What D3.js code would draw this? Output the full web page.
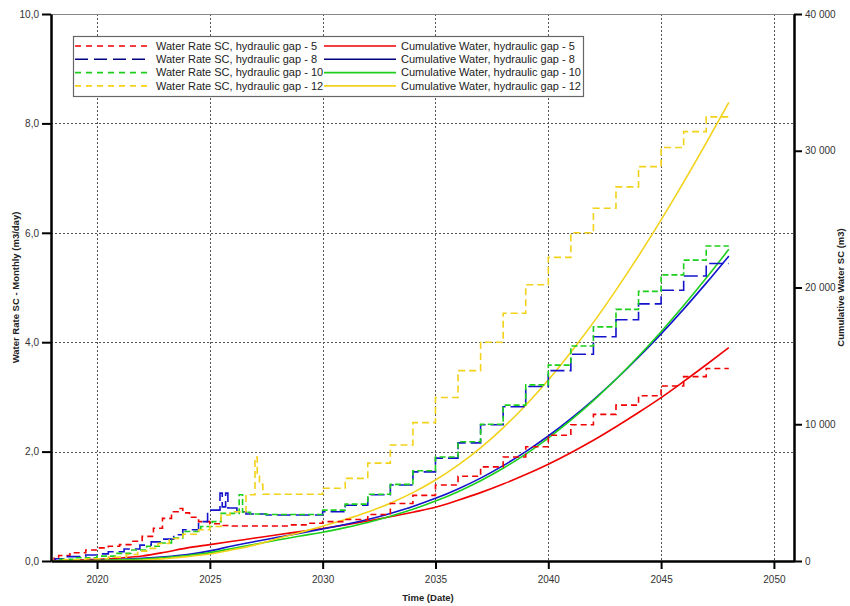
<!DOCTYPE html>
<html>
<head>
<meta charset="utf-8">
<script src="https://cdn.jsdelivr.net/npm/d3@7"></script>
<style>
  body { margin: 0; background: #fff; }
  svg { display: block; font-family: "Liberation Sans", Arial, sans-serif; }
  .grid line { stroke: #555; stroke-dasharray: 2,2; shape-rendering: crispEdges; }
  .axis path, .axis line { stroke: #000; stroke-width: 2; }
  .axis text { fill: #333; }
</style>
</head>
<body>
<div id="chart"></div>
<script>
// cumulative water (m3), yearly
const cumYears = [2018, 2019, 2020, 2021, 2022, 2023, 2024, 2025, 2026, 2027, 2028, 2029, 2030,
  2031, 2032, 2033, 2034, 2035, 2036, 2037, 2038, 2039, 2040, 2041, 2042, 2043, 2044, 2045, 2046, 2047, 2048];
const cumGap5 = [0, 45, 120, 220, 365, 640, 960, 1200, 1440, 1680, 1920, 2150, 2380,
  2640, 2920, 3230, 3570, 3930, 4440, 5000, 5630, 6320, 7080, 7920, 8830, 9820, 10860, 11950, 13130, 14350, 15600];
const cumGap8 = [0, 15, 50, 110, 190, 310, 480, 740, 1100, 1420, 1730, 2040, 2340,
  2670, 3040, 3480, 3990, 4580, 5270, 6060, 6970, 8000, 9140, 10410, 11790, 13290, 14900, 16610, 18420, 20320, 22300];
const cumGap10 = [0, 10, 35, 80, 150, 250, 400, 610, 920, 1230, 1530, 1830, 2100,
  2440, 2820, 3270, 3780, 4380, 5070, 5870, 6780, 7820, 8990, 10300, 11730, 13290, 14970, 16770, 18680, 20690, 22790];
const cumGap12 = [0, 5, 15, 30, 60, 170, 320, 510, 820, 1180, 1640, 2090, 2540,
  3030, 3580, 4230, 5000, 5920, 7010, 8280, 9740, 11390, 13230, 15260, 17450, 19810, 22310, 24940, 27700, 30570, 33530];

// water rate (m3/day): [decimal year, value], held until the next point
const rateGap5 = [[2018.0, 0], [2018.1, 0.05], [2018.3, 0.1], [2018.8, 0.15], [2019.5, 0.2], [2020.0, 0.24],
  [2020.5, 0.27], [2021.0, 0.3], [2021.5, 0.36], [2022.0, 0.45], [2022.5, 0.6], [2022.9, 0.78], [2023.3, 0.9],
  [2023.6, 0.96], [2023.8, 0.88], [2024.1, 0.8], [2024.5, 0.72], [2025.0, 0.68], [2025.5, 0.65], [2026.0, 0.64],
  [2028.5, 0.66], [2029.4, 0.69], [2030, 0.72], [2031, 0.76], [2032, 0.85], [2033, 1.05], [2034, 1.2],
  [2035, 1.39], [2036, 1.55], [2037, 1.72], [2038, 1.9], [2039, 2.09], [2040, 2.3], [2041, 2.49], [2042, 2.68],
  [2043, 2.85], [2044, 3.02], [2045, 3.2], [2046, 3.37], [2047, 3.52], [2048, 3.52]];
const rateGap8 = [[2018.0, 0], [2018.15, 0.04], [2018.5, 0.08], [2019.5, 0.11], [2020.0, 0.13], [2020.5, 0.17],
  [2021.2, 0.22], [2021.9, 0.29], [2022.4, 0.35], [2022.8, 0.4], [2023.4, 0.48], [2023.8, 0.57], [2024.5, 0.72],
  [2024.9, 0.93], [2025.45, 1.24], [2025.55, 0.99], [2025.7, 1.24], [2025.8, 0.97], [2026.2, 0.9], [2026.6, 0.86],
  [2027.5, 0.84], [2030, 0.9], [2031, 1.02], [2032, 1.21], [2033, 1.39], [2034, 1.63], [2035, 1.88],
  [2036, 2.16], [2037, 2.49], [2038, 2.82], [2039, 3.19], [2040, 3.48], [2041, 3.78], [2042, 4.10],
  [2043, 4.41], [2044, 4.70], [2045, 4.95], [2046, 5.21], [2047, 5.44], [2048, 5.44]];
const rateGap10 = [[2018.0, 0], [2018.3, 0.03], [2019.0, 0.06], [2020.0, 0.09], [2020.8, 0.14], [2021.5, 0.2],
  [2022.2, 0.27], [2022.8, 0.33], [2023.3, 0.42], [2023.8, 0.54], [2024.6, 0.63], [2025.1, 0.72], [2025.5, 0.87],
  [2026.3, 1.21], [2026.45, 0.89], [2026.8, 0.86], [2027.5, 0.85], [2030, 0.93], [2031, 1.04], [2032, 1.22],
  [2033, 1.40], [2034, 1.65], [2035, 1.90], [2036, 2.18], [2037, 2.50], [2038, 2.85], [2039, 3.22],
  [2040, 3.58], [2041, 3.93], [2042, 4.28], [2043, 4.60], [2044, 4.93], [2045, 5.23], [2046, 5.50],
  [2047, 5.76], [2048, 5.76]];
const rateGap12 = [[2018.0, 0], [2018.5, 0.02], [2019.5, 0.04], [2020.5, 0.07], [2021.3, 0.12], [2021.8, 0.18],
  [2022.2, 0.23], [2022.7, 0.32], [2023.2, 0.41], [2023.8, 0.49], [2024.5, 0.57], [2025.0, 0.63], [2025.5, 0.84],
  [2025.9, 0.9], [2026.6, 1.21], [2027.0, 1.9], [2027.1, 1.6], [2027.2, 1.4], [2027.35, 1.22], [2030, 1.33],
  [2031, 1.51], [2032, 1.79], [2033, 2.12], [2034, 2.53], [2035, 2.99], [2036, 3.48], [2037, 4.00],
  [2038, 4.53], [2039, 5.05], [2040, 5.55], [2041, 6.00], [2042, 6.45], [2043, 6.84], [2044, 7.21],
  [2045, 7.56], [2046, 7.85], [2047, 8.12], [2048, 8.12]];

const gaps = ["5", "8", "10", "12"];
const xTicks = [2020, 2025, 2030, 2035, 2040, 2045, 2050];
const rateTicks = [0, 2, 4, 6, 8, 10];
const cumTicks = [0, 10000, 20000, 30000, 40000];

const width = 850, height = 606;
const margin = {top: 14, right: 56, bottom: 45, left: 51};

const colors = ["#f00000", "#1414cc", "#1ccf1c", "#f2d21a"];
const legendColors = ["#f00000", "#000080", "#1ccf1c", "#f2d21a"];
const rateDash = ["6,4", "14,5", "6,3", "7,4"];

const rates = [rateGap5, rateGap8, rateGap10, rateGap12];
const cums = [cumGap5, cumGap8, cumGap10, cumGap12];

const svg = d3.select("#chart").append("svg")
  .attr("width", width)
  .attr("height", height);

const x = d3.scaleLinear()
  .domain([2017.96, 2050.89])
  .range([margin.left, width - margin.right]);
const yRate = d3.scaleLinear()
  .domain([0, 10])
  .range([height - margin.bottom, margin.top]);
const yCum = d3.scaleLinear()
  .domain([0, 40000])
  .range([height - margin.bottom, margin.top]);

const locale = d3.formatLocale({decimal: ",", thousands: " ", grouping: [3], currency: ["", ""]});

// grid
const grid = svg.append("g").attr("class", "grid");
grid.selectAll("line.v")
  .data(xTicks)
  .enter().append("line")
    .attr("class", "v")
    .attr("x1", d => Math.round(x(d)) + 0.5)
    .attr("x2", d => Math.round(x(d)) + 0.5)
    .attr("y1", yRate(10))
    .attr("y2", yRate(0));
grid.selectAll("line.h")
  .data([2, 4, 6, 8])
  .enter().append("line")
    .attr("class", "h")
    .attr("x1", x.range()[0])
    .attr("x2", x.range()[1])
    .attr("y1", d => Math.round(yRate(d)) + 0.5)
    .attr("y2", d => Math.round(yRate(d)) + 0.5);
svg.append("line")
  .attr("x1", x.range()[0])
  .attr("x2", x.range()[1])
  .attr("y1", yRate(10) + 0.5)
  .attr("y2", yRate(10) + 0.5)
  .style("stroke", "#888");

// series
const rateLine = d3.line()
  .curve(d3.curveStepAfter)
  .x(d => x(d[0]))
  .y(d => yRate(d[1]));
const cumLine = d3.line()
  .curve(d3.curveMonotoneX)
  .x((d, i) => x(cumYears[i]))
  .y(d => yCum(d));

svg.append("g")
  .selectAll("path")
  .data(cums)
  .enter().append("path")
    .attr("d", cumLine)
    .style("fill", "none")
    .style("stroke", (d, i) => colors[i])
    .style("stroke-width", 1.6);

svg.append("g")
  .selectAll("path")
  .data(rates)
  .enter().append("path")
    .attr("d", rateLine)
    .style("fill", "none")
    .style("stroke", (d, i) => colors[i])
    .style("stroke-width", 1.6)
    .style("stroke-dasharray", (d, i) => rateDash[i]);

// axes
svg.append("g")
  .attr("class", "axis")
  .attr("transform", `translate(0,${height - margin.bottom})`)
  .call(d3.axisBottom(x).tickValues(xTicks).tickFormat(d3.format("d"))
    .tickSize(8).tickSizeOuter(0).tickPadding(7))
  .style("font-size", "10px");

svg.append("g")
  .attr("class", "axis")
  .attr("transform", `translate(${margin.left},0)`)
  .call(d3.axisLeft(yRate).tickValues(rateTicks).tickFormat(locale.format(".1f"))
    .tickSize(9).tickSizeOuter(0).tickPadding(3))
  .style("font-size", "10px");

svg.append("g")
  .attr("class", "axis")
  .attr("transform", `translate(${width - margin.right},0)`)
  .call(d3.axisRight(yCum).tickValues(cumTicks).tickFormat(locale.format(",d"))
    .tickSize(8).tickSizeOuter(0).tickPadding(3))
  .style("font-size", "10px");

svg.selectAll(".axis .domain").style("stroke-width", 2.5);

// axis titles
svg.append("text")
  .attr("transform", `translate(19,${(margin.top + height - margin.bottom) / 2}) rotate(-90)`)
  .attr("text-anchor", "middle")
  .style("font-size", "9.5px")
  .style("font-weight", "bold")
  .style("fill", "#222")
  .text("Water Rate SC - Monthly (m3/day)");

svg.append("text")
  .attr("transform", `translate(844,${(margin.top + height - margin.bottom) / 2}) rotate(-90)`)
  .attr("text-anchor", "middle")
  .style("font-size", "9.5px")
  .style("font-weight", "bold")
  .style("fill", "#222")
  .text("Cumulative Water SC (m3)");

svg.append("text")
  .attr("x", 428)
  .attr("y", 601)
  .attr("text-anchor", "middle")
  .style("font-size", "9.5px")
  .style("font-weight", "bold")
  .style("fill", "#222")
  .text("Time (Date)");

// legend
const legend = svg.append("g");
legend.append("rect")
  .attr("x", 73.5)
  .attr("y", 36.5)
  .attr("width", 510)
  .attr("height", 60)
  .style("fill", "#fff")
  .style("stroke", "#666")
  .style("stroke-width", 1.2);

const rows = legend.selectAll("g.row")
  .data(gaps)
  .enter().append("g")
    .attr("class", "row")
    .attr("transform", (d, i) => `translate(0,${46 + i * 13.3})`);

rows.append("line")
  .attr("x1", 75).attr("x2", 150)
  .style("stroke", (d, i) => legendColors[i])
  .style("stroke-width", 1.6)
  .style("stroke-dasharray", (d, i) => i === 1 ? "13,6" : "6,5");
rows.append("text")
  .attr("x", 156)
  .attr("dy", "0.35em")
  .style("font-size", "11px")
  .style("fill", "#222")
  .text(d => "Water Rate SC, hydraulic gap - " + d);

rows.append("line")
  .attr("x1", 324).attr("x2", 396)
  .style("stroke", (d, i) => legendColors[i])
  .style("stroke-width", 1.6);
rows.append("text")
  .attr("x", 401)
  .attr("dy", "0.35em")
  .style("font-size", "11px")
  .style("fill", "#222")
  .text(d => "Cumulative Water, hydraulic gap - " + d);
</script>
</body>
</html>
